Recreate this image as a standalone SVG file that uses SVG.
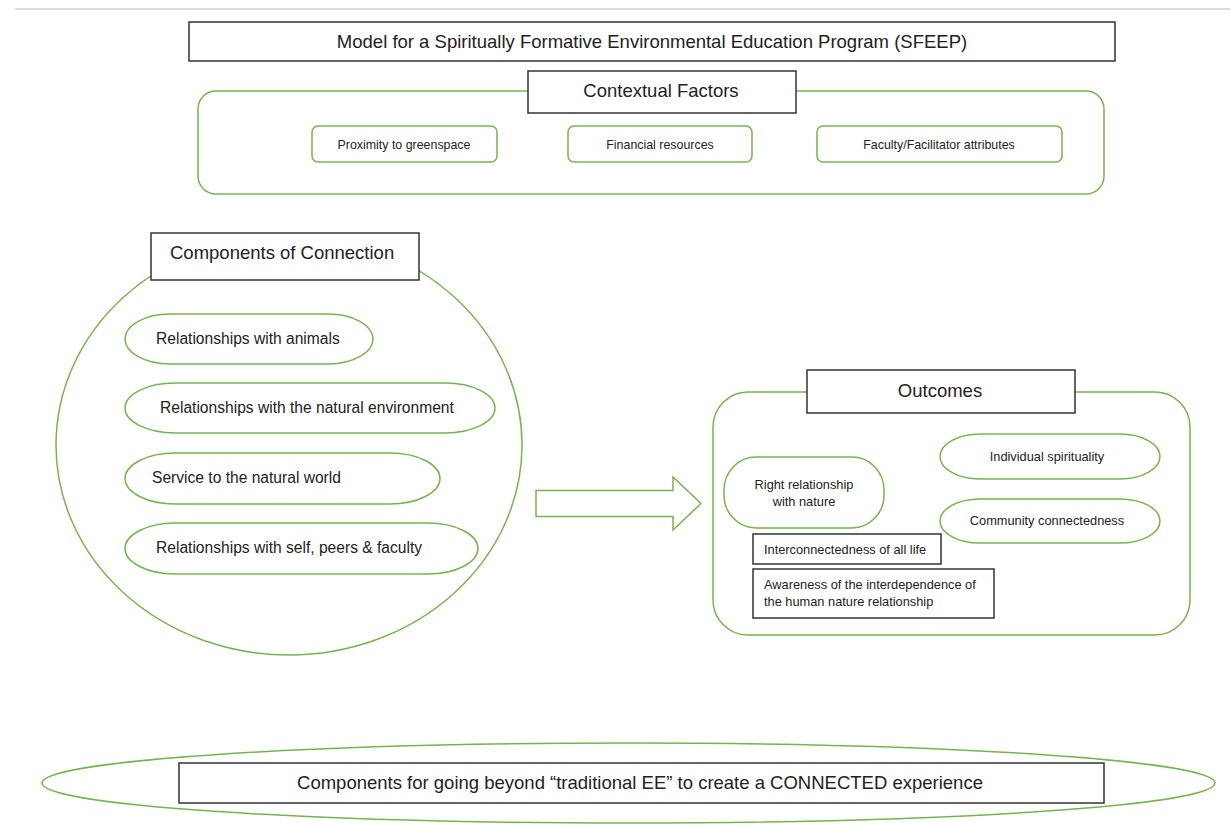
<svg xmlns="http://www.w3.org/2000/svg" width="1230" height="824" viewBox="0 0 1230 824">
<style>
text{font-family:"Liberation Sans",Arial,sans-serif;fill:#222}
.g{fill:#fff;stroke:#78b352;stroke-width:1.5}
.gn{fill:none;stroke:#78b352;stroke-width:1.5}
.b{fill:#fff;stroke:#333;stroke-width:1.5}
.t18{font-size:18.5px}
.t15{font-size:15.6px}
.t12{font-size:12.4px}
.t13{font-size:12.8px}
</style>
<rect width="1230" height="824" fill="#fff"/>
<line x1="15" y1="9" x2="1230" y2="9" stroke="#d0d0d0" stroke-width="1.5"/>

<g id="title">
<rect class="b" x="189" y="22" width="926" height="39"/>
<text class="t18" x="652" y="48" text-anchor="middle">Model for a Spiritually Formative Environmental Education Program (SFEEP)</text>
</g>

<g id="contextual-factors">
<rect class="g" x="198" y="91" width="906" height="103" rx="18"/>
<rect class="b" x="528" y="71" width="268" height="42"/>
<text class="t18" x="661" y="97" text-anchor="middle">Contextual Factors</text>
</g>
<g id="cf-proximity">
<rect class="g" x="312" y="126" width="185" height="36" rx="6"/>
<text class="t12" x="404" y="149" text-anchor="middle">Proximity to greenspace</text>
</g>
<g id="cf-financial">
<rect class="g" x="568" y="126" width="184" height="36" rx="6"/>
<text class="t12" x="660" y="149" text-anchor="middle">Financial resources</text>
</g>
<g id="cf-faculty">
<rect class="g" x="817" y="126" width="245" height="36" rx="6"/>
<text class="t12" x="939" y="149" text-anchor="middle">Faculty/Facilitator attributes</text>
</g>

<g id="components">
<ellipse class="g" cx="289" cy="445" rx="233" ry="210"/>
<rect class="b" x="151" y="233" width="268" height="47"/>
<text class="t18" x="170" y="259">Components of Connection</text>
</g>
<g id="comp-animals">
<rect class="g" x="125" y="314" width="248" height="50" rx="45" ry="25"/>
<text class="t15" x="156" y="344">Relationships with animals</text>
</g>
<g id="comp-environment">
<rect class="g" x="125" y="383" width="370" height="50" rx="50" ry="25"/>
<text class="t15" x="160" y="413">Relationships with the natural environment</text>
</g>
<g id="comp-service">
<rect class="g" x="125" y="453" width="315" height="51" rx="50" ry="25.5"/>
<text class="t15" x="152" y="483">Service to the natural world</text>
</g>
<g id="comp-self">
<rect class="g" x="125" y="523" width="353" height="51" rx="50" ry="25.5"/>
<text class="t15" x="156" y="553">Relationships with self, peers &amp; faculty</text>
</g>

<g id="connectors">
<path class="gn" d="M536,490.5 L673,490.5 L673,477 L701,503.5 L673,530 L673,516.5 L536,516.5 Z" stroke-width="2"/>
<path class="gn" d="M890,484.5 L913,484.5 L913,482 L924,486.5 L913,491 L913,488.5 L890,488.5 Z"/>
</g>

<g id="outcomes">
<rect class="g" x="713" y="392" width="477" height="243" rx="35"/>
<rect class="b" x="807" y="370" width="268" height="43"/>
<text class="t18" x="940" y="397" text-anchor="middle">Outcomes</text>
</g>
<g id="out-right-relationship">
<rect class="g" x="724" y="457" width="160" height="71" rx="32" ry="33"/>
<text class="t13" x="804" y="489" text-anchor="middle">Right relationship</text>
<text class="t13" x="804" y="506" text-anchor="middle">with nature</text>
</g>
<g id="out-individual">
<rect class="g" x="940" y="434" width="220" height="45" rx="40" ry="22.5"/>
<text class="t13" x="1047" y="461" text-anchor="middle">Individual spirituality</text>
</g>
<g id="out-community">
<rect class="g" x="940" y="499" width="220" height="44" rx="40" ry="22"/>
<text class="t13" x="1047" y="525" text-anchor="middle">Community connectedness</text>
</g>
<g id="out-interconnectedness">
<rect class="b" x="753" y="534" width="188" height="30"/>
<text class="t13" x="764" y="554">Interconnectedness of all life</text>
</g>
<g id="out-awareness">
<rect class="b" x="753" y="569" width="241" height="49"/>
<text class="t13" x="764" y="589">Awareness of the interdependence of</text>
<text class="t13" x="764" y="606">the human nature relationship</text>
</g>

<g id="beyond">
<ellipse class="g" cx="628.5" cy="783" rx="586.5" ry="40"/>
<rect class="b" x="179" y="763" width="925" height="40"/>
<text class="t18" x="640" y="789" text-anchor="middle">Components for going beyond “traditional EE” to create a CONNECTED experience</text>
</g>
</svg>
